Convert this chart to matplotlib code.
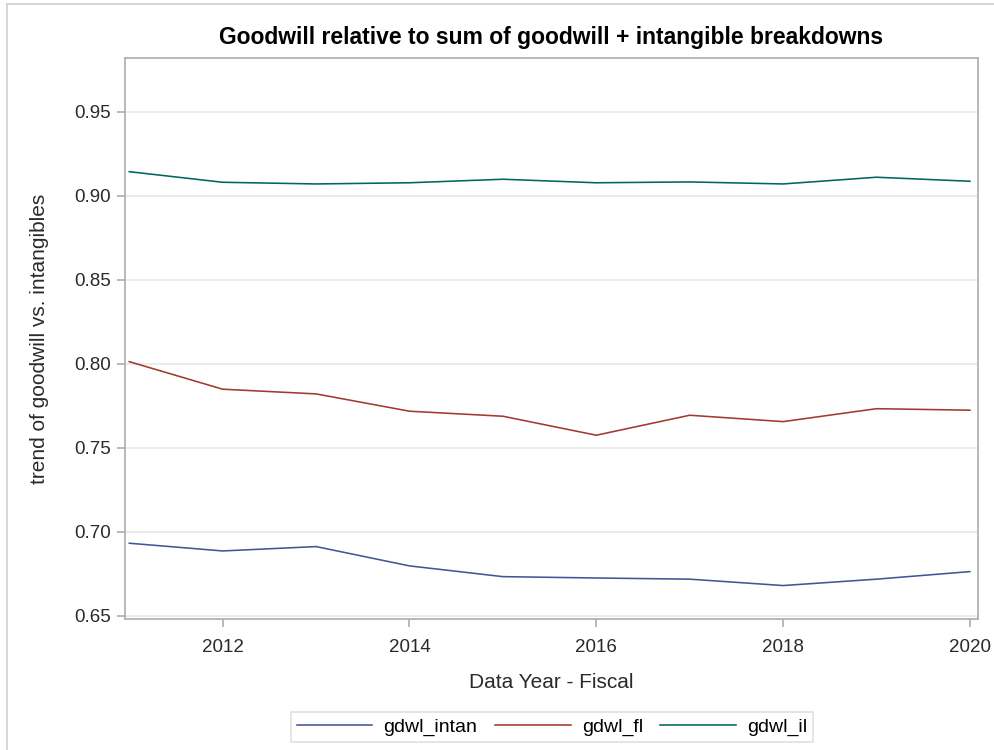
import matplotlib
matplotlib.use("Agg")
import matplotlib.pyplot as plt
from matplotlib.lines import Line2D

plt.rcParams['font.family'] = ['Liberation Sans', 'DejaVu Sans']

# fiscal years and the three goodwill ratios
years = [2011, 2012, 2013, 2014, 2015, 2016, 2017, 2018, 2019, 2020]
gdwl_intan = [0.6931, 0.6885, 0.6911, 0.6796, 0.6732, 0.6724, 0.6717, 0.6679, 0.6717, 0.6762]
gdwl_fl = [0.8012, 0.7848, 0.7820, 0.7717, 0.7687, 0.7574, 0.7693, 0.7655, 0.7732, 0.7723]
gdwl_il = [0.9143, 0.9080, 0.9070, 0.9077, 0.9098, 0.9077, 0.9082, 0.9070, 0.9110, 0.9086]

series = [
    ('gdwl_intan', gdwl_intan, '#445694'),
    ('gdwl_fl', gdwl_fl, '#A23A2E'),
    ('gdwl_il', gdwl_il, '#01665E'),
]

yticks = [0.65, 0.70, 0.75, 0.80, 0.85, 0.90, 0.95]
xticks = [2012, 2014, 2016, 2018, 2020]

fig = plt.figure(figsize=(9.95, 7.5), dpi=100)
ax = fig.add_axes([0.1256, 0.1747, 0.8573, 0.748])

for name, vals, col in series:
    ax.plot(years, vals, color=col, linewidth=1.15, label=name)

ax.set_xlim(2010.954, 2020.086)
ax.set_ylim(0.648, 0.982)
ax.set_yticks(yticks)
ax.set_yticklabels([f'{v:.2f}' for v in yticks])
ax.set_xticks(xticks)

ax.grid(axis='y', color='#EBEBEB', linewidth=1.4)
ax.set_axisbelow(True)
for s in ax.spines.values():
    s.set_color('#A9AEB4')
    s.set_linewidth(1.2)
ax.tick_params(axis='both', colors='#A9AEB4', labelcolor='#2A2A2A',
               labelsize=13.5, length=6, width=1.2)
ax.tick_params(axis='x', pad=8.5)
ax.tick_params(axis='y', pad=4)

ax.set_xlabel('Data Year - Fiscal', fontsize=15, color='#2A2A2A', labelpad=12)
ax.set_ylabel('trend of goodwill vs. intangibles', fontsize=15, color='#2A2A2A', labelpad=18)
ax.set_title('Goodwill relative to sum of goodwill + intangible breakdowns',
             fontsize=16.5, fontweight='bold', pad=10)

leg = fig.legend(loc='center', bbox_to_anchor=(552 / 995, 1 - 727 / 750), ncol=3,
                 fontsize=14, handlelength=3.9, columnspacing=0.9, handletextpad=0.57,
                 frameon=True, fancybox=False, borderpad=0.3)
leg.get_frame().set_edgecolor('#D9D9D9')
leg.get_frame().set_linewidth(1.2)

# outer frame edges along the left and top
fig.add_artist(Line2D([0.007, 0.007], [0, 0.9947], transform=fig.transFigure,
                      color='#CFCFCF', linewidth=1.2))
fig.add_artist(Line2D([0.007, 1], [0.9947, 0.9947], transform=fig.transFigure,
                      color='#CFCFCF', linewidth=1.2))

fig.savefig('out.png', dpi=100)
